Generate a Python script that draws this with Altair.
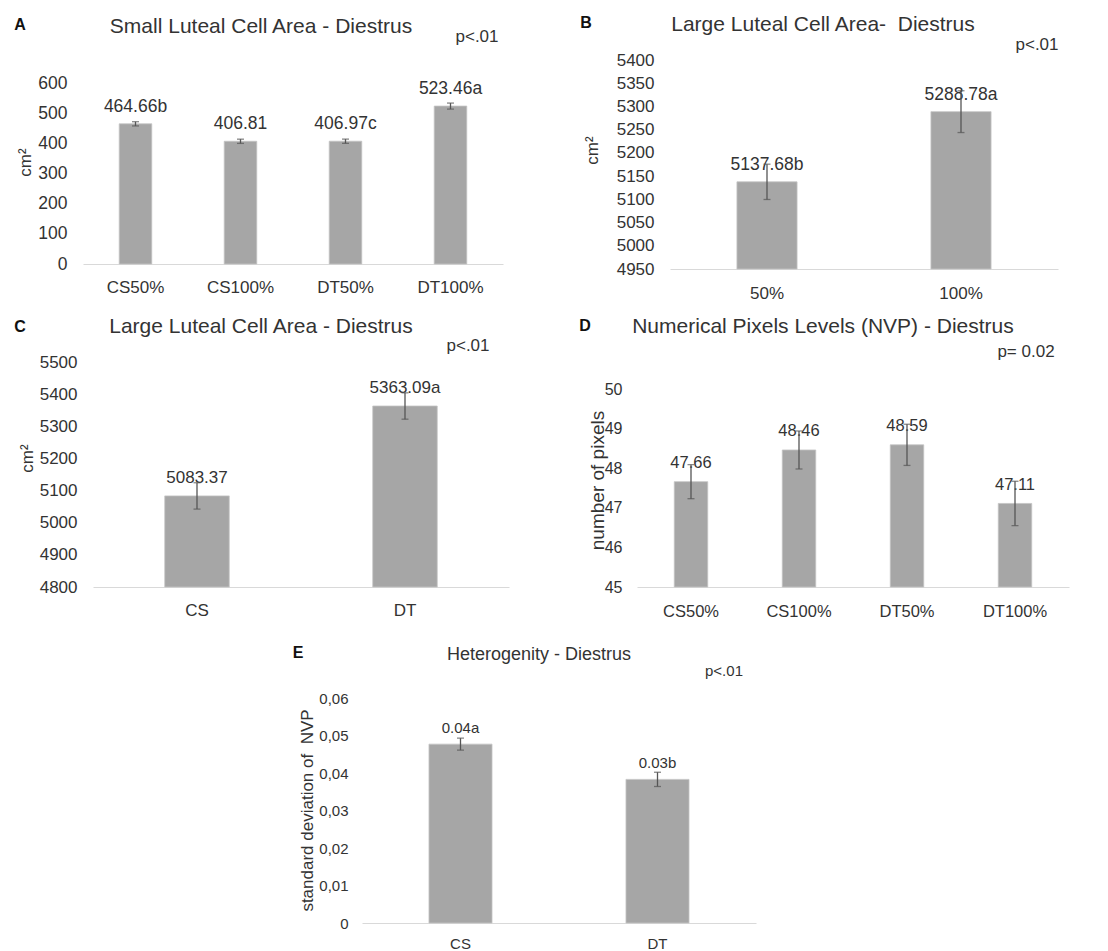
import altair as alt
import pandas as pd

# ---------------- data ----------------
A_CATS = ["CS50%", "CS100%", "DT50%", "DT100%"]
A_VALS = [464.66, 406.81, 406.97, 523.46]
A_ERR = [7, 7, 7, 10]
A_LABELS = ["464.66b", "406.81", "406.97c", "523.46a"]
A_TICKS = [0, 100, 200, 300, 400, 500, 600]

B_CATS = ["50%", "100%"]
B_VALS = [5137.68, 5288.78]
B_ERR = [38, 45]
B_LABELS = ["5137.68b", "5288.78a"]
B_TICKS = [4950, 5000, 5050, 5100, 5150, 5200, 5250, 5300, 5350, 5400]

C_CATS = ["CS", "DT"]
C_VALS = [5083.37, 5363.09]
C_ERR = [41, 41]
C_LABELS = ["5083.37", "5363.09a"]
C_TICKS = [4800, 4900, 5000, 5100, 5200, 5300, 5400, 5500]

D_CATS = ["CS50%", "CS100%", "DT50%", "DT100%"]
D_VALS = [47.66, 48.46, 48.59, 47.11]
D_ERR = [0.43, 0.48, 0.52, 0.56]
D_LABELS = ["47.66", "48.46", "48.59", "47.11"]
D_TICKS = [45, 46, 47, 48, 49, 50]

E_CATS = ["CS", "DT"]
E_VALS = [0.0477, 0.0383]
E_ERR = [0.0016, 0.0019]
E_LABELS = ["0.04a", "0.03b"]
E_TICKS = [0, 0.01, 0.02, 0.03, 0.04, 0.05, 0.06]

# ---------------- style ----------------
OX, OY = 8, 8
W, H = 1092, 943
FONT = "Liberation Sans, Arial, Helvetica, sans-serif"
BAR = "#a6a6a6"
ERRC = "#555555"
TXT = "#333333"


def note(text, px, py, size, weight="normal", align="center", color=TXT):
    return alt.Chart(pd.DataFrame({"d": [0]})).mark_text(
        text=text, fontSize=size, fontWeight=weight, align=align,
        baseline="middle", font=FONT, color=color
    ).encode(x=alt.value(px - OX), y=alt.value(py - OY))


def panel(cats, vals, errs, labels, ticks, box, ytitle, ytitle_pos,
          tick_fs, xlab_fs, bar_fs, ytitle_fs, dy, xpad, ypad,
          letter, title, ptext, label_expr=None, band=0.69):
    x0, x1, y0, y1 = box
    df = pd.DataFrame({
        "cat": cats, "val": vals,
        "lo": [v - e for v, e in zip(vals, errs)],
        "hi": [v + e for v, e in zip(vals, errs)],
        "lab": labels, "base": [ticks[0]] * len(cats),
    })
    xs = alt.Scale(domain=cats, range=[x0 - OX, x1 - OX],
                   paddingInner=band, paddingOuter=band / 2)
    ys = alt.Scale(domain=[ticks[0], ticks[-1]], range=[y1 - OY, y0 - OY],
                   nice=False, zero=False)
    xax = alt.Axis(orient="bottom", offset=(y1 - OY) - H, title=None,
                   ticks=False, domain=True, domainColor="#d9d9d9",
                   domainWidth=1.2, labelPadding=xpad, labelFontSize=xlab_fs,
                   labelColor=TXT, labelAngle=0, labelFont=FONT, grid=False)
    yargs = dict(orient="left", offset=-(x0 - OX), values=ticks, grid=False,
                 domain=False, ticks=False, labelPadding=ypad,
                 labelFontSize=tick_fs, labelColor=TXT, labelFont=FONT,
                 title=ytitle, titleX=ytitle_pos[0] - x0,
                 titleY=ytitle_pos[1] - OY, titleFontSize=ytitle_fs,
                 titleFontWeight="normal", titleColor=TXT, titleFont=FONT,
                 titleAngle=270, titleAlign="center", titleBaseline="middle")
    if label_expr:
        yargs["labelExpr"] = label_expr
    else:
        yargs["format"] = "d"
    yax = alt.Axis(**yargs)
    X = alt.X("cat:N", scale=xs, axis=xax, sort=cats)
    base = alt.Chart(df)
    bars = base.mark_bar(color=BAR, stroke="#c4c4c4", strokeWidth=0.8).encode(
        x=X, y=alt.Y("val:Q", scale=ys, axis=yax), y2="base:Q")
    labs = base.mark_text(dy=dy, fontSize=bar_fs, color=TXT, font=FONT,
                          baseline="middle").encode(
        x=X, y=alt.Y("val:Q", scale=ys, axis=yax), text="lab:N")
    rule = base.mark_rule(color=ERRC, strokeWidth=1.3).encode(
        x=X, y=alt.Y("lo:Q", scale=ys, axis=yax), y2="hi:Q")
    caplo = base.mark_tick(color=ERRC, size=7, thickness=1.3).encode(
        x=X, y=alt.Y("lo:Q", scale=ys, axis=yax))
    caphi = base.mark_tick(color=ERRC, size=7, thickness=1.3).encode(
        x=X, y=alt.Y("hi:Q", scale=ys, axis=yax))
    anns = [
        note(letter[0], letter[1], letter[2], 16, weight="bold", color="#111111"),
        note(title[0], title[1], title[2], title[3]),
        note(ptext[0], ptext[1], ptext[2], ptext[3]),
    ]
    return alt.layer(bars, labs, rule, caplo, caphi, *anns)


pA = panel(A_CATS, A_VALS, A_ERR, A_LABELS, A_TICKS, (83, 503, 83, 264),
           "cm²", (25, 162), 17.5, 17, 17.5, 17, -17, 15, 16,
           ("A", 20, 25), ("Small Luteal Cell Area - Diestrus", 261, 27, 21),
           ("p<.01", 477, 37, 17))
pB = panel(B_CATS, B_VALS, B_ERR, B_LABELS, B_TICKS, (670, 1058, 60, 269),
           "cm²", (592, 150), 17, 17, 17.5, 17, -17, 16, 16,
           ("B", 586, 23), ("Large Luteal Cell Area-\u00a0 Diestrus", 823, 25, 21),
           ("p<.01", 1037, 45, 17))
pC = panel(C_CATS, C_VALS, C_ERR, C_LABELS, C_TICKS, (93, 509, 362, 587),
           "cm²", (27, 458), 17, 17, 17, 17, -18, 15, 16,
           ("C", 20, 327), ("Large Luteal Cell Area - Diestrus", 261, 327, 21),
           ("p<.01", 468, 346, 17))
pD = panel(D_CATS, D_VALS, D_ERR, D_LABELS, D_TICKS, (637, 1069, 389, 587),
           "number of pixels", (597, 480), 16, 16.5, 16.5, 19, -18.5, 16, 15,
           ("D", 585, 326), ("Numerical Pixels Levels (NVP) - Diestrus", 823, 327, 21),
           ("p= 0.02", 1026, 352, 17))
pE = panel(E_CATS, E_VALS, E_ERR, E_LABELS, E_TICKS, (362, 756, 698, 923),
           "standard deviation of \u00a0NVP", (307, 810), 15, 15, 15, 17, -16, 13, 14,
           ("E", 298, 653), ("Heterogenity - Diestrus", 539, 655, 18),
           ("p<.01", 724, 671, 15),
           label_expr="datum.value == 0 ? '0' : replace(format(datum.value, '.2f'), '.', ',')",
           band=0.68)

chart = alt.layer(pA, pB, pC, pD, pE).resolve_scale(
    x="independent", y="independent"
).resolve_axis(
    x="independent", y="independent"
).properties(
    width=W, height=H, autosize=alt.AutoSizeParams(type="none"), padding=0,
    background="white"
).configure(font=FONT).configure_view(strokeWidth=0, stroke=None)

chart.save("out.html", embed_options={"renderer": "svg", "actions": False})
